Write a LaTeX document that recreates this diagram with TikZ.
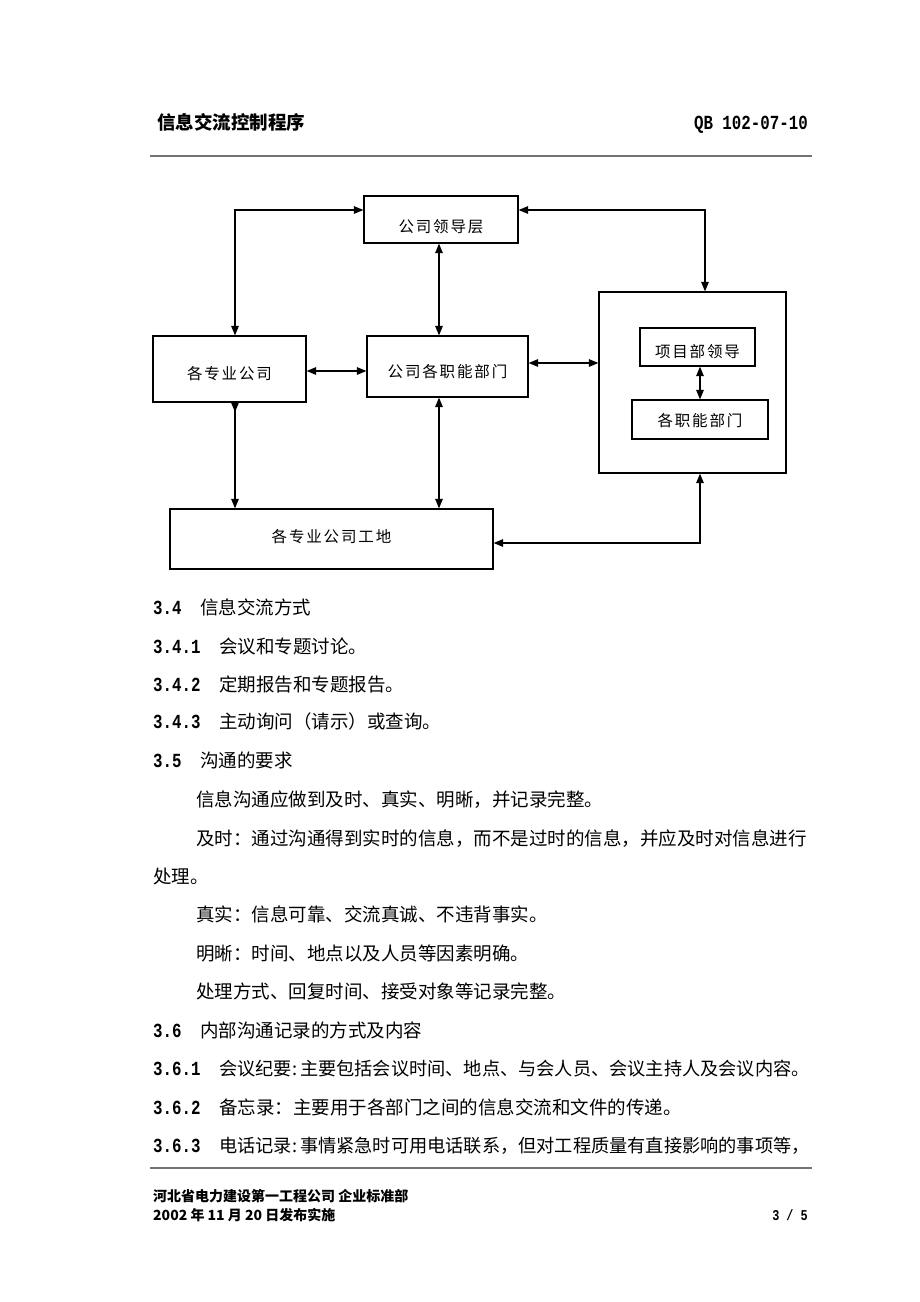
\documentclass[tikz,border=0pt]{standalone}
\usepackage{fontspec}
\usetikzlibrary{arrows.meta}
\newfontfamily\cjk{Noto Sans CJK SC}
\newfontfamily\boxf[LetterSpace=12]{Noto Sans CJK SC}
\newfontfamily\monof[FakeStretch=0.79]{Liberation Mono}
\definecolor{rulegray}{gray}{0.45}
\newcommand{\dn}[2]{\raisebox{-#1pt}[\height][\depth]{#2}}
\begin{document}
\begin{tikzpicture}[x=1pt,y=-1pt,
  box/.style={draw,line width=1.2pt,inner sep=0pt,font=\boxf\fontsize{15.5}{18}\selectfont},
  frame/.style={draw,line width=1.2pt,inner sep=0pt},
  link/.style={line width=1.3pt,{Triangle[length=9.5pt,width=7.5pt]}-{Triangle[length=9.5pt,width=7.5pt]}},
  oddlink/.style={line width=1.3pt,{Triangle[length=9.5pt,width=7.5pt,reversed]}-{Triangle[length=9.5pt,width=7.5pt]}},
  txt/.style={anchor=base west,inner sep=0pt,font=\cjk\fontsize{18.5}{22}\selectfont},
  num/.style={anchor=base west,inner sep=0pt,font=\monof\bfseries\fontsize{20}{22}\selectfont},
  foot/.style={anchor=base west,inner sep=0pt,font=\cjk\bfseries\fontsize{14}{16}\selectfont},
  rulestyle/.style={draw=rulegray,line width=2pt}]
\useasboundingbox[fill=white] (0,0) rectangle (920,1302);

% header
\node[anchor=base west,inner sep=0pt,font=\cjk\bfseries\fontsize{18.5}{22}\selectfont] (title) at (157,129) {信息交流控制程序};
\node[anchor=base east,inner sep=0pt,font=\monof\bfseries\fontsize{20}{22}\selectfont] (code) at (808,129) {QB 102-07-10};
\draw[rulestyle] (150,156) -- (812,156);

% diagram boxes
\node[box,minimum width=154pt,minimum height=47pt] (lead) at (441,219.5) {\dn{7}{公司领导层}};
\node[box,minimum width=153pt,minimum height=66pt] (subco) at (229.5,369) {\dn{5}{各专业公司}};
\node[box,minimum width=161pt,minimum height=61pt] (dept) at (447.5,366.5) {\dn{5}{公司各职能部门}};
\node[frame,minimum width=187pt,minimum height=181pt] (outer) at (692.5,382.5) {};
\node[box,minimum width=115pt,minimum height=38pt] (pl) at (697.5,347) {\dn{5}{项目部领导}};
\node[box,minimum width=136pt,minimum height=39pt] (pd) at (700,419.5) {\dn{1.5}{各职能部门}};
\node[box,minimum width=323pt,minimum height=60pt] (site) at (331.5,539) {\dn{-2}{各专业公司工地}};

% connector helpers
\coordinate (cA) at (235,210);
\coordinate (cB) at (705,210);
\coordinate (cC) at (439,0);
\coordinate (cD) at (0,371);
\coordinate (cE) at (0,363);
\coordinate (cF) at (700,0);
\coordinate (cG) at (700,543);

\draw[link] (subco.north -| cA) |- (lead.west |- cA);
\draw[link] (lead.east |- cB) -| (outer.north -| cB);
\draw[link] (lead.south -| cC) -- (dept.north -| cC);
\draw[link] (subco.east |- cD) -- (dept.west |- cD);
\draw[link] (dept.east |- cE) -- (outer.west |- cE);
\draw[link] (pl.south -| cF) -- (pd.north -| cF);
\draw[oddlink] (subco.south -| cA) -- (site.north -| cA);
\draw[link] (dept.south -| cC) -- (site.north -| cC);
\draw[link] (outer.south -| cG) |- (site.east |- cG);

% body text
\node[num] (n34) at (153,614) {3.4};
\node[txt] (t34) at (200,614) {信息交流方式};
\node[num] (n341) at (153,653) {3.4.1};
\node[txt] (t341) at (219,653) {会议和专题讨论。};
\node[num] (n342) at (153,691) {3.4.2};
\node[txt] (t342) at (219,691) {定期报告和专题报告。};
\node[num] (n343) at (153,728) {3.4.3};
\node[txt] (t343) at (219,728) {主动询问（请示）或查询。};
\node[num] (n35) at (153,767) {3.5};
\node[txt] (t35) at (200,767) {沟通的要求};
\node[txt] (p1) at (196,806) {信息沟通应做到及时、真实、明晰，并记录完整。};
\node[txt] (p2) at (196,845) {及时：通过沟通得到实时的信息，而不是过时的信息，并应及时对信息进行};
\node[txt] (p3) at (153,883) {处理。};
\node[txt] (p4) at (196,921) {真实：信息可靠、交流真诚、不违背事实。};
\node[txt] (p5) at (196,960) {明晰：时间、地点以及人员等因素明确。};
\node[txt] (p6) at (196,998) {处理方式、回复时间、接受对象等记录完整。};
\node[num] (n36) at (153,1037) {3.6};
\node[txt] (t36) at (200,1037) {内部沟通记录的方式及内容};
\node[num] (n361) at (153,1075) {3.6.1};
\node[txt,font=\cjk\fontsize{18.2}{22}\selectfont] (t361) at (219,1075) {会议纪要:\hspace{3pt}主要包括会议时间、地点、与会人员、会议主持人及会议内容。};
\node[num] (n362) at (153,1114) {3.6.2};
\node[txt] (t362) at (219,1114) {备忘录：主要用于各部门之间的信息交流和文件的传递。};
\node[num] (n363) at (153,1152) {3.6.3};
\node[txt,font=\cjk\fontsize{18.2}{22}\selectfont] (t363) at (219,1152) {电话记录:\hspace{3pt}事情紧急时可用电话联系，但对工程质量有直接影响的事项等，};

% footer
\draw[rulestyle] (150,1168) -- (812,1168);
\node[foot] (f1) at (153,1201) {河北省电力建设第一工程公司 企业标准部};
\node[foot] (f2) at (153,1220) {2002 年 11 月 20 日发布实施};
\node[anchor=base east,inner sep=0pt,font=\monof\bfseries\fontsize{15}{16}\selectfont] (pg) at (808,1220) {3 / 5};
\end{tikzpicture}
\end{document}
